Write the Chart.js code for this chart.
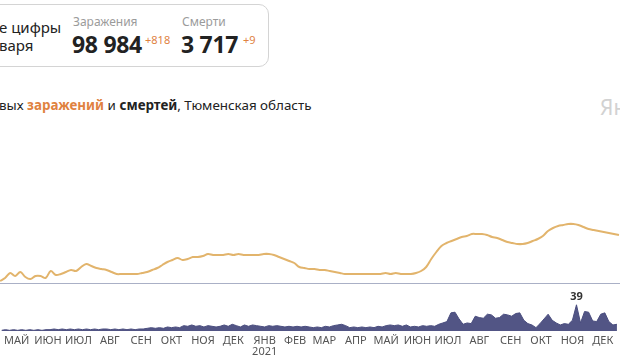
<!DOCTYPE html>
<html lang="ru">
<head>
<meta charset="utf-8">
<script src="https://cdn.jsdelivr.net/npm/chart.js@4/dist/chart.umd.min.js"></script>
<style>
  body { margin: 0; width: 620px; height: 364px; overflow: hidden; background: #fff; font-family: 'Noto Sans', sans-serif; color: #222; position: relative; }
  .abs { position: absolute; white-space: nowrap; }
  .card { position: absolute; left: -20px; top: 4px; width: 287px; height: 61px; border: 1.5px solid #d4d4d4; border-radius: 10px; }
  .lbl { font-size: 12px; color: #9b9b9b; }
  .big { font-size: 23px; font-weight: 700; letter-spacing: -0.3px; }
  .delta { font-size: 11px; color: #e0823f; }
  #wrapTop { position: absolute; left: 0; top: 180px; width: 620px; height: 104px; }
  #wrapBottom { position: absolute; left: 0; top: 286px; width: 620px; height: 78px; }
</style>
</head>
<body>
<div class="card"></div>
<div class="abs" style="left:-1px; top:17px; font-size:15px;">е цифры</div>
<div class="abs" style="left:-1px; top:35px; font-size:15px;">варя</div>
<div class="abs lbl" style="left:73px; top:13px;">Заражения</div>
<div class="abs big" style="left:72px; top:28px;">98 984</div>
<div class="abs delta" style="left:145px; top:32px;">+818</div>
<div class="abs lbl" style="left:182px; top:13px;">Смерти</div>
<div class="abs big" style="left:181px; top:28px;">3 717</div>
<div class="abs delta" style="left:243px; top:32px;">+9</div>

<div class="abs" style="left:-1px; top:96px; font-size:13.4px;">вых <b style="color:#e0823f">заражений</b> и <b>смертей</b>, Тюменская область</div>
<div class="abs" style="left:600px; top:93px; font-size:21px; color:#d2d2d2;">Ян</div>

<div id="wrapTop"><canvas id="graficoCasos"></canvas></div>
<div id="wrapBottom"><canvas id="graficoMortes"></canvas></div>

<script>
// dias contados a partir de 1 de maio de 2020
const diaMax = 611;
const passoCasos = 5;
const passoMortes = 4;

// novos casos por dia (a cada 5 dias)
const casos = [
  15, 30, 55, 40, 60, 35, 25, 40, 40, 30,
  65, 45, 50, 60, 70, 65, 85, 100, 90, 80,
  75, 70, 60, 50, 50, 50, 50, 50, 55, 60,
  70, 80, 95, 110, 120, 130, 120, 125, 135, 135,
  140, 150, 145, 145, 145, 150, 145, 150, 145, 145,
  145, 145, 150, 150, 145, 135, 125, 115, 105, 85,
  80, 75, 75, 70, 70, 65, 60, 55, 50, 50,
  50, 50, 50, 50, 50, 50, 55, 50, 55, 50,
  50, 50, 55, 65, 85, 125, 160, 190, 205, 215,
  225, 235, 240, 250, 250, 250, 245, 235, 230, 220,
  210, 205, 200, 200, 205, 215, 225, 240, 265, 280,
  290, 295, 300, 300, 295, 285, 275, 270, 265, 260,
  255, 250, 245
];

// mortes por dia (a cada 4 dias)
const mortes = [
  1, 2, 1, 2, 1, 2, 1, 2, 1, 2,
  1, 2, 2, 3, 2, 3, 2, 3, 2, 3,
  2, 3, 2, 3, 2, 3, 3, 2, 3, 2,
  3, 2, 3, 2, 3, 3, 4, 5, 4, 5,
  4, 6, 5, 6, 5, 8, 7, 9, 7, 8,
  6, 8, 7, 6, 7, 9, 7, 10, 8, 6,
  9, 7, 9, 8, 7, 6, 8, 7, 8, 7,
  6, 7, 6, 7, 6, 7, 6, 5, 6, 5,
  7, 6, 8, 9, 10, 8, 5, 6, 5, 6,
  5, 6, 5, 7, 6, 8, 9, 8, 9, 7,
  9, 6, 7, 6, 8, 7, 8, 7, 10, 12,
  14, 27, 28, 18, 10, 12, 11, 22, 20, 19,
  25, 24, 19, 20, 25, 24, 22, 26, 27, 16,
  11, 9, 5, 11, 18, 25, 16, 12, 9, 11,
  10, 16, 39, 12, 29, 28, 15, 14, 25, 27,
  14, 9, 10
];

// meio de cada mês, em dias
const diasMeses = [15, 46, 76, 107, 138, 168, 199, 229, 260, 290, 319, 350, 380, 411, 441, 472, 503, 533, 564, 594];
const nomesMeses = ['МАЙ', 'ИЮН', 'ИЮЛ', 'АВГ', 'СЕН', 'ОКТ', 'НОЯ', 'ДЕК', ['ЯНВ', '2021'], 'ФЕВ',
  'МАР', 'АПР', 'МАЙ', 'ИЮН', 'ИЮЛ', 'АВГ', 'СЕН', 'ОКТ', 'НОЯ', 'ДЕК'];

const pontosCasos = casos.map((v, i) => ({ x: i * passoCasos, y: v }));
const pontosMortes = mortes.map((v, i) => ({ x: i * passoMortes, y: v }));

Chart.defaults.animation = false;
Chart.defaults.font.family = "'Noto Sans', sans-serif";

new Chart(document.getElementById('graficoCasos'), {
    type: 'line',
    data: {
        datasets: [{
            data: pontosCasos,
            borderColor: '#e2b46c',
            borderWidth: 2,
            pointRadius: 0,
            tension: 0.35,
            fill: false
        }]
    },
    options: {
        responsive: true,
        maintainAspectRatio: false,
        plugins: { legend: { display: false }, tooltip: { enabled: false } },
        scales: {
            x: {
                type: 'linear', min: 0, max: diaMax,
                grid: { display: false, drawTicks: false },
                border: { display: true, color: '#aab0c6', width: 1.5 },
                ticks: { display: false }
            },
            y: { display: false, min: 0, max: 520 }
        }
    }
});

// rótulo do valor máximo acima do pico
const rotuloMaximo = {
    id: 'rotuloMaximo',
    afterDatasetsDraw(chart) {
        const idx = mortes.indexOf(Math.max(...mortes));
        const ponto = chart.getDatasetMeta(0).data[idx];
        const ctx = chart.ctx;
        ctx.save();
        ctx.font = "bold 11px 'Noto Sans', sans-serif";
        ctx.fillStyle = '#333';
        ctx.textAlign = 'center';
        ctx.textBaseline = 'bottom';
        ctx.fillText(String(mortes[idx]), ponto.x, ponto.y - 2);
        ctx.restore();
    }
};

new Chart(document.getElementById('graficoMortes'), {
    type: 'line',
    data: {
        datasets: [{
            data: pontosMortes,
            borderColor: '#4b4e7f',
            backgroundColor: '#525585',
            borderWidth: 1,
            pointRadius: 0,
            tension: 0,
            fill: 'origin'
        }]
    },
    options: {
        responsive: true,
        maintainAspectRatio: false,
        plugins: { legend: { display: false }, tooltip: { enabled: false } },
        scales: {
            x: {
                type: 'linear', min: 0, max: diaMax,
                afterBuildTicks: (scale) => { scale.ticks = diasMeses.map(d => ({ value: d })); },
                afterFit: (scale) => { scale.height = 33; },
                grid: { display: false, drawTicks: false },
                border: { display: false },
                ticks: {
                    autoSkip: false, maxRotation: 0, padding: 4,
                    color: '#555', font: { size: 11, lineHeight: 1.0 },
                    callback: (v, i) => nomesMeses[i]
                }
            },
            y: { display: false, min: 0, max: 67 }
        }
    },
    plugins: [rotuloMaximo]
});
</script>
</body>
</html>
